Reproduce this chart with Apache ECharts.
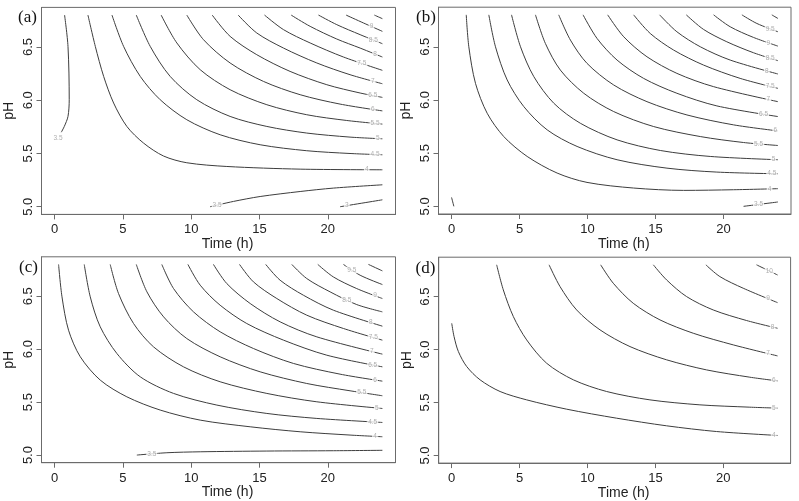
<!DOCTYPE html>
<html><head><meta charset="utf-8">
<script src="https://cdn.jsdelivr.net/npm/echarts@6/dist/echarts.min.js"></script>
<style>html,body{margin:0;padding:0;background:#fff}#c{width:799px;height:501px}</style>
</head><body><div id="c"></div>
<script>
// ---------- data ----------
const panelNames = ['(a)', '(b)', '(c)', '(d)'];
const xTicks = [0, 5, 10, 15, 20];
const yTicks = [5.0, 5.5, 6.0, 6.5];
const xName = 'Time (h)';
const yName = 'pH';

// Panel (a): contour levels, contour points [time, pH], label x position (or [x,y])
const levelsA = [3.5, 3.5, 3, 4, 4.5, 5, 5.5, 6, 6.5, 7, 7.5, 8, 8.5, 9, 9.5];
const linesA = [
  [[0.73,6.80],[0.98,6.506],[1.07,6.005],[0.98,5.848],[0.71,5.754],[0.49,5.70]],
  [[11.39,5.0],[13.10,5.05],[15.05,5.096],[17.98,5.143],[20.41,5.175],[24,5.206]],
  [[20.90,5.0],[24,5.065]],
  [[2.44,6.80],[2.98,6.506],[3.59,6.224],[4.32,5.974],[5.29,5.754],[6.51,5.598],[7.98,5.476],[9.68,5.413],[12.61,5.378],[17.98,5.353],[24,5.347]],
  [[4.20,6.80],[5.05,6.506],[6.27,6.224],[7.73,6.005],[9.68,5.817],[12.12,5.676],[15.05,5.582],[18.46,5.526],[21.63,5.50],[24,5.488]],
  [[5.98,6.80],[7.0,6.506],[8.46,6.224],[10.41,6.005],[12.85,5.848],[15.54,5.754],[18.46,5.692],[21.63,5.654],[24,5.638]],
  [[7.80,6.80],[8.95,6.538],[10.66,6.287],[12.85,6.099],[15.54,5.958],[18.46,5.864],[21.39,5.81],[24,5.776]],
  [[9.68,6.80],[10.90,6.569],[12.85,6.35],[15.29,6.177],[17.98,6.052],[20.90,5.964],[24,5.90]],
  [[11.54,6.80],[12.85,6.60],[14.80,6.428],[17.24,6.271],[19.93,6.146],[22.37,6.068],[24,6.027]],
  [[13.44,6.80],[14.80,6.632],[16.76,6.49],[19.20,6.35],[21.63,6.24],[24,6.155]],
  [[15.37,6.80],[16.76,6.663],[18.71,6.538],[21.15,6.406],[24,6.281]],
  [[17.32,6.80],[18.71,6.694],[20.66,6.575],[22.37,6.49],[24,6.406]],
  [[19.32,6.80],[20.66,6.71],[22.37,6.616],[24,6.531]],
  [[21.34,6.80],[22.61,6.726],[24,6.647]],
  [[23.41,6.80],[24,6.766]]
];
const labelAtA = [[0.25,5.64], 11.9, 21.4, 22.85, 23.46, 23.66, 23.46, 23.3, 23.3, 23.3, 22.49, 23.46, 23.34, 23.2, null];

// Panel (b)
const levelsB = [3.5, 3.5, 4, 4.5, 5, 5.5, 6, 6.5, 7, 7.5, 8, 8.5, 9, 9.5, 10];
const linesB = [
  [[0,5.084],[0.17,5.0]],
  [[21.47,5.0],[24,5.041]],
  [[1.08,6.80],[1.27,6.50],[1.76,6.156],[2.62,5.875],[3.84,5.656],[5.56,5.469],[7.76,5.313],[9.96,5.225],[13.39,5.172],[17.06,5.15],[20.73,5.156],[24,5.166]],
  [[2.74,6.80],[3.23,6.50],[4.09,6.188],[5.31,5.938],[7.03,5.719],[9.23,5.563],[12.17,5.438],[15.84,5.359],[19.51,5.322],[24,5.306]],
  [[4.41,6.80],[5.07,6.50],[6.05,6.219],[7.52,5.969],[9.47,5.781],[12.17,5.625],[15.35,5.525],[19.02,5.469],[24,5.438]],
  [[6.17,6.80],[6.90,6.531],[8.0,6.281],[9.72,6.063],[11.92,5.891],[14.86,5.75],[18.29,5.656],[21.47,5.60],[24,5.572]],
  [[7.88,6.80],[8.74,6.563],[9.96,6.344],[11.92,6.141],[14.37,5.984],[17.31,5.859],[20.73,5.766],[24,5.709]],
  [[9.67,6.80],[10.70,6.578],[12.17,6.375],[14.12,6.203],[16.57,6.063],[19.51,5.944],[24,5.844]],
  [[11.48,6.80],[12.66,6.594],[14.37,6.406],[16.57,6.25],[19.27,6.125],[24,5.984]],
  [[13.39,6.80],[14.61,6.625],[16.33,6.469],[18.53,6.328],[21.22,6.203],[24,6.109]],
  [[15.30,6.80],[16.57,6.641],[18.29,6.50],[20.49,6.375],[24,6.244]],
  [[17.26,6.80],[18.53,6.663],[20.24,6.547],[22.20,6.444],[24,6.369]],
  [[19.27,6.80],[20.49,6.688],[22.20,6.588],[24,6.506]],
  [[21.35,6.80],[22.45,6.719],[24,6.641]],
  [[23.55,6.80],[24,6.766]]
];
const labelAtB = [null, 22.57, 23.38, 23.55, 23.67, 22.57, 23.8, 22.94, 23.3, 23.43, 23.18, 23.43, 23.3, 23.43, null];

// Panel (c)
const levelsC = [3.5, 4, 4.5, 5, 5.5, 6, 6.5, 7, 7.5, 8, 8.5, 9, 9.5, 10];
const linesC = [
  [[6.02,5.0],[8.22,5.022],[10.66,5.031],[15.54,5.038],[20.41,5.041],[24,5.045]],
  [[0.29,6.80],[0.54,6.494],[1.02,6.179],[1.88,5.928],[3.34,5.708],[5.29,5.55],[7.73,5.425],[10.66,5.33],[14.32,5.267],[17.98,5.22],[21.63,5.189],[24,5.173]],
  [[2.17,6.80],[2.61,6.494],[3.34,6.211],[4.56,5.959],[6.27,5.739],[8.71,5.582],[11.88,5.472],[15.54,5.393],[19.20,5.346],[24,5.308]],
  [[4.07,6.80],[4.68,6.525],[5.78,6.242],[7.24,6.022],[9.44,5.833],[12.12,5.692],[15.54,5.582],[19.20,5.503],[24,5.44]],
  [[5.98,6.80],[6.76,6.541],[7.98,6.305],[9.68,6.10],[12.12,5.928],[15.05,5.786],[18.46,5.676],[21.63,5.607],[24,5.56]],
  [[7.85,6.80],[8.71,6.572],[10.17,6.352],[12.12,6.164],[14.56,6.006],[17.49,5.865],[20.90,5.764],[24,5.698]],
  [[9.76,6.80],[10.66,6.604],[12.12,6.415],[14.07,6.242],[16.76,6.085],[19.93,5.943],[24,5.833]],
  [[11.63,6.80],[12.61,6.619],[14.32,6.431],[16.51,6.258],[19.20,6.116],[24,5.953]],
  [[13.54,6.80],[14.56,6.635],[16.27,6.478],[18.46,6.321],[21.15,6.195],[24,6.085]],
  [[15.46,6.80],[16.51,6.651],[18.22,6.509],[20.41,6.368],[24,6.217]],
  [[17.37,6.80],[18.46,6.667],[20.17,6.541],[22.12,6.421],[24,6.352]],
  [[19.27,6.80],[20.41,6.682],[22.12,6.572],[24,6.478]],
  [[21.15,6.80],[22.37,6.698],[24,6.61]],
  [[22.98,6.80],[24,6.739]]
];
const labelAtC = [7.12, 23.46, 23.29, 23.59, 22.49, 23.46, 23.29, 23.22, 23.34, 23.15, 21.39, 23.46, 21.76, null];

// Panel (d)
const levelsD = [4, 5, 6, 7, 8, 9, 10];
const linesD = [
  [[0,6.248],[0.17,6.123],[0.49,5.981],[1.10,5.84],[2.09,5.714],[3.56,5.604],[5.52,5.525],[8.47,5.437],[12.15,5.352],[15.83,5.28],[19.51,5.226],[24,5.189]],
  [[3.31,6.80],[3.80,6.563],[4.54,6.311],[5.52,6.091],[6.99,5.871],[8.96,5.714],[11.41,5.604],[14.60,5.525],[18.28,5.478],[21.96,5.456],[24,5.447]],
  [[7.17,6.80],[7.98,6.594],[9.20,6.374],[10.92,6.186],[13.13,6.028],[15.83,5.903],[18.77,5.808],[21.96,5.739],[24,5.704]],
  [[10.97,6.80],[11.90,6.626],[13.37,6.437],[15.34,6.28],[17.79,6.154],[20.74,6.044],[24,5.94]],
  [[14.85,6.80],[15.83,6.657],[17.30,6.50],[19.26,6.374],[21.72,6.274],[24,6.201]],
  [[18.72,6.80],[19.75,6.689],[21.47,6.579],[24,6.443]],
  [[22.45,6.80],[24,6.704]]
];
const labelAtD = [23.73, 23.73, 23.73, 23.3, 23.63, 23.3, 23.39];

// ---------- chart ----------
const panels = [
  {levels: levelsA, lines: linesA, labelAt: labelAtA},
  {levels: levelsB, lines: linesB, labelAt: labelAtB},
  {levels: levelsC, lines: linesC, labelAt: labelAtC},
  {levels: levelsD, lines: linesD, labelAt: labelAtD}
];
const gridBoxes = [
  {left: 41.5, top: 7.4, width: 354, height: 207},
  {left: 438.5, top: 7.2, width: 352.5, height: 206.8},
  {left: 41.5, top: 256.8, width: 354, height: 205.9},
  {left: 438.7, top: 257.2, width: 351.9, height: 206.1}
];
const labelPos = [[28, 19], [426, 19], [29, 269], [425.5, 270]];

function yAt(pts, x) {
  for (let i = 0; i < pts.length - 1; i++) {
    const a = pts[i], b = pts[i + 1];
    if ((x - a[0]) * (x - b[0]) <= 0 && a[0] !== b[0]) {
      return a[1] + (b[1] - a[1]) * (x - a[0]) / (b[0] - a[0]);
    }
  }
  return pts[pts.length - 1][1];
}

const FONT = 'Liberation Sans, Arial, sans-serif';
const AX = '#6b6b6b';
const grid = [], xAxis = [], yAxis = [], series = [], graphic = [];
gridBoxes.forEach((g, i) => {
  grid.push(Object.assign({show: true, borderColor: AX, borderWidth: 1, backgroundColor: 'transparent', containLabel: false}, g));
  xAxis.push({
    type: 'value', gridIndex: i, min: -0.96, max: 24.96, position: 'bottom',
    name: xName, nameLocation: 'middle', nameGap: 19,
    nameTextStyle: {fontFamily: FONT, fontSize: 14, color: '#222', padding: [0, 0, 0, 18]},
    axisLine: {show: true, onZero: false, lineStyle: {color: AX, width: 1}}, splitLine: {show: false},
    axisTick: {show: true, inside: false, length: 5, customValues: xTicks, lineStyle: {color: AX, width: 1}},
    axisLabel: {show: true, customValues: xTicks, margin: 9, fontFamily: FONT, fontSize: 13, color: '#222'}
  });
  yAxis.push({
    type: 'value', gridIndex: i, min: 4.928, max: 6.872, position: 'left',
    name: yName, nameLocation: 'middle', nameGap: 25, nameRotate: 90,
    nameTextStyle: {fontFamily: FONT, fontSize: 14, color: '#222'},
    axisLine: {show: true, onZero: false, lineStyle: {color: AX, width: 1}}, splitLine: {show: false},
    axisTick: {show: true, inside: false, length: 5, customValues: yTicks, lineStyle: {color: AX, width: 1}},
    axisLabel: {show: true, customValues: yTicks, rotate: 90, margin: 7, fontFamily: FONT, fontSize: 13, color: '#222',
      formatter: v => Number(v).toFixed(1)}
  });
  const p = panels[i];
  p.lines.forEach((pts, k) => {
    series.push({
      type: 'line', xAxisIndex: i, yAxisIndex: i, data: pts, symbol: 'none', smooth: 0.3,
      lineStyle: {color: '#3d3d3d', width: 1}, silent: true, animation: false, z: 2
    });
  });
  const labData = [];
  p.lines.forEach((pts, k) => {
    const at = p.labelAt[k];
    if (at === null || at === undefined) return;
    const pos = Array.isArray(at) ? at : [at, yAt(pts, at)];
    labData.push([pos[0], pos[1], String(p.levels[k])]);
  });
  series.push({
    type: 'scatter', xAxisIndex: i, yAxisIndex: i, data: labData, symbolSize: 0.1, silent: true, animation: false, z: 5,
    label: {show: true, position: 'inside', formatter: d => d.value[2], fontFamily: FONT, fontSize: 6.5, color: '#9a9a9a',
      backgroundColor: '#fff', padding: [0, 1]}
  });
  graphic.push({type: 'text', left: labelPos[i][0] - 10, top: labelPos[i][1] - 10, z: 10,
    style: {text: panelNames[i], font: '17px "Liberation Serif", "Times New Roman", serif', fill: '#111', width: 20, align: 'left'}});
});

const chart = echarts.init(document.getElementById('c'), null, {renderer: 'canvas'});
chart.setOption({animation: false, grid, xAxis, yAxis, series, graphic});
</script></body></html>
